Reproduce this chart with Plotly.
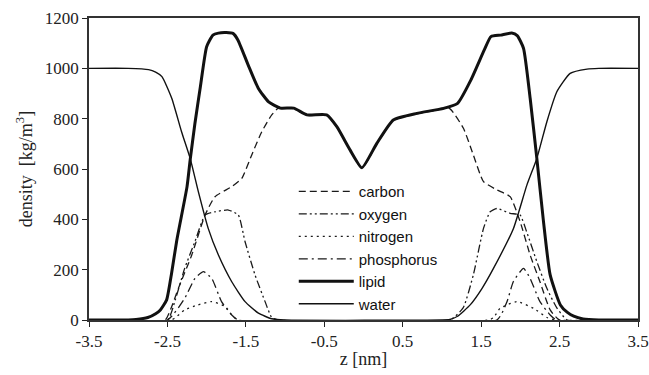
import plotly.graph_objects as go

# ---------------- data ----------------
lipid_z = [-3.5, -3.0, -2.9, -2.75, -2.65, -2.59, -2.51, -2.45, -2.38, -2.25, -2.21, -2.15, -2.08,
           -2.0, -1.92, -1.85, -1.75, -1.66, -1.6, -1.47, -1.34, -1.21, -1.06, -0.89, -0.72, -0.47,
           -0.34, -0.17, -0.02, 0.17, 0.38, 0.68, 1.02, 1.2, 1.37, 1.54, 1.625, 1.75, 1.89, 1.96,
           2.04, 2.125, 2.21, 2.295, 2.38, 2.51, 2.6, 2.68, 2.8, 3.0, 3.5]
lipid_v = [0, 0, 2, 10, 25, 40, 80, 180, 318, 530, 636, 780, 927,
           1086, 1132, 1140, 1142, 1138, 1112, 1013, 920, 867, 842, 842, 815, 815,
           768, 675, 605, 702, 795, 821, 841, 861, 954, 1073, 1126, 1132, 1140, 1130,
           1080, 881, 642, 391, 179, 60, 30, 15, 4, 0, 0]

water_z = [-3.5, -3.0, -2.74, -2.65, -2.57, -2.445, -2.32, -2.21, -2.106, -1.98, -1.85, -1.68,
           -1.51, -1.34, -1.17, -1.0, 1.0, 1.1, 1.2, 1.36, 1.51, 1.657, 1.912, 2.083, 2.21, 2.338,
           2.465, 2.635, 2.85, 3.0, 3.5]
water_v = [1000, 1000, 995, 985, 967, 881, 748, 642, 510, 364, 258, 152,
           73, 27, 5, 0, 0, 2, 15, 60, 125, 205, 364, 536, 642, 788,
           907, 980, 997, 1000, 1000]

carbon_z = [-3.5, -2.53, -2.45, -2.36, -2.19, -2.02, -1.893, -1.68, -1.552, -1.425, -1.297,
            -1.17, -1.085, -0.89, -0.72, -0.47, -0.34, -0.17, -0.02, 0.17, 0.38, 0.68, 1.02,
            1.1, 1.274, 1.4, 1.53, 1.7, 1.87, 1.997, 2.125, 2.25, 2.38, 2.5, 3.5]
carbon_v = [0, 0, 50, 126, 258, 417, 490, 530, 563, 656, 748,
            815, 842, 840, 813, 813, 766, 673, 603, 700, 793, 819, 839,
            840, 762, 656, 550, 517, 490, 391, 258, 152, 40, 0, 0]

oxygen_z = [-3.5, -2.5, -2.4, -2.28, -2.15, -2.02, -1.893, -1.723, -1.596, -1.51, -1.383,
            -1.255, -1.17, -1.08, 1.1, 1.27, 1.4, 1.53, 1.615, 1.7, 1.87, 1.997, 2.08, 2.21,
            2.338, 2.465, 2.6, 3.5]
oxygen_v = [0, 0, 80, 205, 311, 417, 430, 437, 417, 311, 179,
            73, 10, 0, 0, 48, 179, 364, 430, 443, 424, 417, 351, 232,
            126, 48, 0, 0]

nitrogen_z = [-3.5, -2.45, -2.28, -2.11, -1.935, -1.76, -1.68, -1.6, 1.6, 1.66, 1.74, 1.955,
              2.17, 2.34, 2.45, 3.5]
nitrogen_v = [0, 0, 40, 60, 73, 53, 20, 0, 0, 10, 46, 73,
              46, 10, 0, 0]

phosphorus_z = [-3.5, -2.5, -2.28, -2.15, -2.04, -1.935, -1.81, -1.68, -1.6, 1.7, 1.83,
                1.91, 2.04, 2.125, 2.25, 2.38, 2.46, 3.5]
phosphorus_v = [0, 0, 86, 165, 192, 165, 73, 20, 0, 0, 73,
                152, 205, 165, 73, 20, 0, 0]

x_ticks = [-3.5, -2.5, -1.5, -0.5, 0.5, 1.5, 2.5, 3.5]
x_tick_labels = ["-3.5", "-2.5", "-1.5", "-0.5", "0.5", "1.5", "2.5", "3.5"]
y_ticks = [0, 200, 400, 600, 800, 1000, 1200]

# ---------------- figure ----------------
fig = go.Figure()
series = [
    ("carbon", carbon_z, carbon_v, dict(color="#1a1a1a", width=1.3, dash="7px,4px")),
    ("oxygen", oxygen_z, oxygen_v, dict(color="#1a1a1a", width=1.3, dash="8px,3px,2px,3px,2px,3px")),
    ("nitrogen", nitrogen_z, nitrogen_v, dict(color="#1a1a1a", width=1.3, dash="2px,4px")),
    ("phosphorus", phosphorus_z, phosphorus_v, dict(color="#1a1a1a", width=1.3, dash="9px,4px,2px,4px")),
    ("lipid", lipid_z, lipid_v, dict(color="#111", width=3)),
    ("water", water_z, water_v, dict(color="#111", width=1.4)),
]
for name, zz, vv, ln in series:
    ln = dict(ln, shape="spline", smoothing=0.5)
    fig.add_trace(go.Scatter(x=zz, y=vv, mode="lines", name=name, line=ln))

serif = "Liberation Serif"
fig.update_layout(
    width=649, height=375,
    margin=dict(l=89, r=11, t=18, b=55, autoexpand=False),
    paper_bgcolor="white", plot_bgcolor="white",
    showlegend=True,
    legend=dict(
        x=0.373, y=0.48, xanchor="left", yanchor="top",
        font=dict(family="Liberation Sans", size=15, color="#111"),
        bgcolor="rgba(0,0,0,0)", tracegroupgap=0, itemwidth=55,
    ),
    xaxis=dict(
        range=[-3.5, 3.5], tickvals=x_ticks, ticktext=x_tick_labels,
        ticks="outside", ticklen=5, tickwidth=1.3, tickcolor="#222",
        showgrid=False, zeroline=False, automargin=False,
        showline=True, linecolor="#333", linewidth=1.5, mirror=True,
        tickfont=dict(family=serif, size=17, color="#222"),
        title=dict(text="z [nm]", font=dict(family=serif, size=18, color="#222"), standoff=2),
    ),
    yaxis=dict(
        range=[0, 1200], tickvals=y_ticks,
        ticks="outside", ticklen=5, tickwidth=1.3, tickcolor="#222",
        showgrid=False, zeroline=False, automargin=False,
        showline=True, linecolor="#333", linewidth=1.5, mirror=True,
        tickfont=dict(family=serif, size=17, color="#222"),
        title=dict(text="density  [kg/m<sup>3</sup>]", font=dict(family=serif, size=18, color="#222"), standoff=8),
    ),
)

fig.write_html("out.html", config={"displayModeBar": False},
               post_script="document.body.style.margin='0';document.body.style.padding='0';")
